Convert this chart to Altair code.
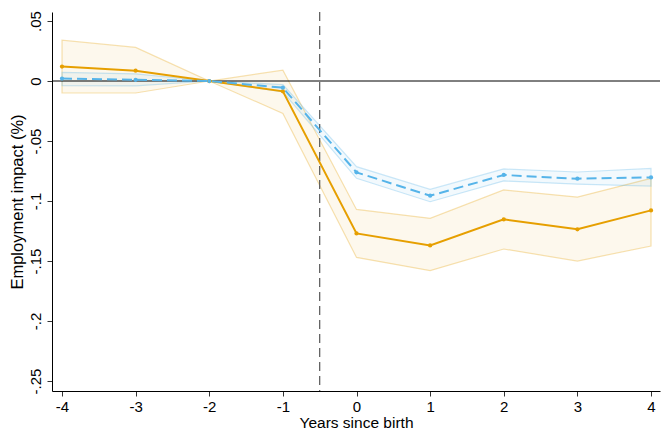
import altair as alt
import pandas as pd

# Event-time estimates with 95% confidence bands
years = [-4, -3, -2, -1, 0, 1, 2, 3, 4]

orange_est = [0.012, 0.0086, 0.0, -0.0086, -0.127, -0.137, -0.1153, -0.1236, -0.1078]
orange_lo = [-0.010, -0.010, 0.0, -0.027, -0.147, -0.158, -0.140, -0.150, -0.1375]
orange_hi = [0.034, 0.028, 0.0, 0.009, -0.107, -0.1144, -0.0908, -0.0967, -0.0811]

blue_est = [0.002, 0.001, 0.0, -0.0056, -0.0761, -0.0956, -0.0783, -0.0814, -0.0803]
blue_lo = [-0.0039, -0.004, 0.0, -0.009, -0.0811, -0.1006, -0.0833, -0.086, -0.0875]
blue_hi = [0.0072, 0.006, 0.0, -0.003, -0.0714, -0.0903, -0.0733, -0.0758, -0.0728]

ORANGE = "#E69F00"
BLUE = "#56B4E9"
FONT = "Liberation Sans"

orange = pd.DataFrame({"year": years, "est": orange_est, "lo": orange_lo, "hi": orange_hi})
blue = pd.DataFrame({"year": years, "est": blue_est, "lo": blue_lo, "hi": blue_hi})

x_scale = alt.Scale(domain=[-4.1358, 4.122], nice=False, zero=False)
y_scale = alt.Scale(domain=[-0.2583, 0.0575], nice=False, zero=False)

x_axis = alt.Axis(
    title="Years since birth",
    values=years,
    labelExpr="(datum.value < 0 ? '-' : '') + abs(datum.value)",
    grid=False,
    tickSize=5,
    labelPadding=3,
    titlePadding=1,
    titleFontSize=15.5,
)
y_axis = alt.Axis(
    title="Employment impact (%)",
    values=[0.05, 0, -0.05, -0.1, -0.15, -0.2, -0.25],
    labelExpr="(datum.value < 0 ? '-' : '') + replace(format(abs(datum.value), '.2~f'), '0.', '.')",
    labelAngle=270,
    labelAlign="center",
    labelBaseline="bottom",
    grid=False,
    tickSize=5,
    labelPadding=4,
    titlePadding=3,
    titleFontSize=16.5,
)

x = alt.X("year:Q", scale=x_scale, axis=x_axis)
y = alt.Y("est:Q", scale=y_scale, axis=y_axis)


def band(df, color, fill_opacity):
    return alt.Chart(df).mark_area(
        color=color, fillOpacity=fill_opacity, stroke=color, strokeOpacity=0.3, strokeWidth=1.2
    ).encode(
        x=alt.X("year:Q", scale=x_scale),
        y=alt.Y("lo:Q", scale=y_scale),
        y2="hi:Q",
    )


orange_band = band(orange, ORANGE, 0.07)
blue_band = band(blue, BLUE, 0.08)

zero_line = alt.Chart(pd.DataFrame({"v": [0.0]})).mark_rule(
    color="black", strokeWidth=1
).encode(y=alt.Y("v:Q", scale=y_scale))

birth_line = alt.Chart(pd.DataFrame({"t": [-0.5]})).mark_rule(
    color="#555555", strokeWidth=1.2, strokeDash=[9, 5]
).encode(x=alt.X("t:Q", scale=x_scale))

orange_line = alt.Chart(orange).mark_line(
    color=ORANGE, strokeWidth=2,
    point=alt.OverlayMarkDef(filled=True, color=ORANGE, size=18),
).encode(x=x, y=y)

blue_line = alt.Chart(blue).mark_line(
    color=BLUE, strokeWidth=2, strokeDash=[10, 5],
    point=alt.OverlayMarkDef(filled=True, color=BLUE, size=18),
).encode(x=x, y=y)

chart = alt.layer(
    orange_band, blue_band, zero_line, birth_line, orange_line, blue_line
).properties(
    width=608,
    height=379,
    padding={"left": 52, "top": 12, "right": 2, "bottom": 45},
    autosize=alt.AutoSizeParams(type="none"),
    background="white",
).configure_view(
    stroke=None
).configure_axis(
    domainColor="black",
    tickColor="#333333",
    labelColor="black",
    titleColor="black",
    labelFont=FONT,
    titleFont=FONT,
    labelFontSize=15,
    titleFontWeight="normal",
    domainWidth=1,
    tickWidth=1,
)

chart.save("out.html", embed_options={"renderer": "svg", "actions": False})
